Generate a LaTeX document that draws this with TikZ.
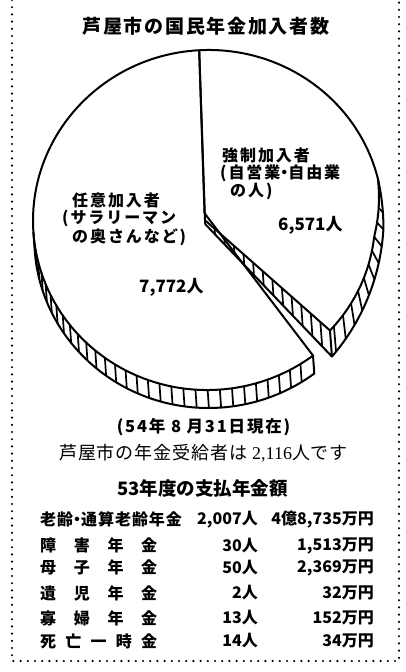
\documentclass[tikz,border=0pt]{standalone}
\usepackage{fontspec}
\usepackage{tikz}
\usetikzlibrary{calc}
\newfontfamily\jpfont{Noto Sans CJK JP}
\newfontfamily\numfont{Liberation Serif}
\newcommand\nakaguro{\makebox[0.5em]{・}}

\begin{document}
\begin{tikzpicture}[x=1pt, y=1pt,
    every node/.style={inner sep=0pt},
    titletext/.style={font=\jpfont\bfseries\fontsize{19}{22}\selectfont\addfontfeature{LetterSpace=9}},
    pietext/.style={anchor=west, font=\jpfont\bfseries\fontsize{16}{18}\selectfont\addfontfeature{LetterSpace=12}},
    pienum/.style={anchor=west, font=\jpfont\bfseries\fontsize{17}{19}\selectfont},
    datetext/.style={font=\jpfont\bfseries\fontsize{16.5}{19}\selectfont\addfontfeature{LetterSpace=11}},
    jukyutext/.style={font=\jpfont\fontsize{18}{20}\selectfont\addfontfeature{LetterSpace=5}},
    headtext/.style={font=\jpfont\bfseries\fontsize{18.5}{21}\selectfont},
    rowtext/.style={font=\jpfont\bfseries\fontsize{16}{18}\selectfont},
    outline/.style={line width=2pt, line join=round},
    hatch/.style={line width=1.7pt},
    dotborder/.style={line width=2.4pt, line cap=round, dash pattern=on 0pt off 7.2pt},
    declare function={innerscale(\t)=1-0.045*max(0,min(1,(10-\t)/20));
                      outerscale(\t)=1-0.044*max(0,min(1,(-5-\t)/42));
                      rimdrop(\t)=26*max(0,min(1,(10-\t)/57));}]
    \useasboundingbox (0,0) rectangle (405,-672);
    \draw[dotborder] (12,0) -- (12,-661) -- (399,-661) -- (399,0);

    \node[titletext] (title) at (206,-26.5) {芦屋市の国民年金加入者数};

    \begin{scope}[shift={(208,-220)}, rotate=4]
        \coordinate (A1) at (-3,7);
        \coordinate (A2) at (-3,0);
        \coordinate (A2b) at (-3,-4);
        \coordinate (Top) at (89:175 and 170);
        \coordinate (Lcut) at (303:175 and 170);
        \coordinate (Ci) at (-47:167.125 and 162.35);
        \coordinate (Co) at (114.1,-144.9);

        \draw[outline] (Top) -- (A2) -- (Ci) -- plot[domain=-47:10, samples=40] ({175*innerscale(\x)*cos(\x)}, {170*innerscale(\x)*sin(\x)}) arc[start angle=10, end angle=89, x radius=175, y radius=170];
        \draw[outline] (A2) -- (A2b) -- (Co) -- (Ci);
        \foreach \i in {1,...,12}
            \draw[hatch] ($(A2)!\i/13!(Ci)$) -- ($(A2b)!\i/13!(Co)$);
        \draw[outline] plot[domain=10:-47, samples=40] ({175*outerscale(\x)*cos(\x)}, {170*outerscale(\x)*sin(\x)-rimdrop(\x)});
        \foreach \t in {0,-5,...,-45}
            \draw[hatch] ({175*innerscale(\t)*cos(\t)}, {170*innerscale(\t)*sin(\t)}) -- ({175*outerscale(\t)*cos(\t)}, {170*outerscale(\t)*sin(\t)-rimdrop(\t)});

        \draw[outline] (A1) -- (Top) arc[start angle=89, end angle=303, x radius=175, y radius=170] -- cycle;
        \draw[outline] (180:175 and 170) -- ++(0,-18) arc[start angle=180, end angle=303, x radius=175, y radius=170] -- (Lcut);
        \foreach \t in {186,190,...,298}
            \draw[hatch] (\t:175 and 170) -- ++(0,-18);
    \end{scope}

    \node[pietext] (kyosei1) at (222,-155) {強制加入者};
    \node[pietext] (kyosei2) at (220,-173) {(自営業\nakaguro 自由業};
    \node[pietext] (kyosei3) at (230,-191) {の人)};
    \node[pietext] (nini1) at (72,-200) {任意加入者};
    \node[pietext] (nini2) at (62,-218) {(サラリーマン};
    \node[pietext] (nini3) at (72,-237) {の奥さんなど)};
    \node[pienum] (kyoseinum) at (278,-225) {6,571人};
    \node[pienum] (nininum) at (139,-287) {7,772人};

    \node[datetext] (date) at (203.5,-427) {(54年 8 月31日現在)};
    \node[jukyutext] (jukyu) at (203.5,-453) {芦屋市の年金受給者は {\numfont 2,116}人です};
    \node[headtext] (shiharai) at (202.5,-488) {53年度の支払年金額};

    \node[rowtext, anchor=west] (name1) at (40,-519.5) {\addfontfeature{LetterSpace=6}老齢\nakaguro 通算老齢年金};
    \node[rowtext, anchor=east] (count1) at (258,-519.5) {2,007人};
    \node[rowtext, anchor=east] (amount1) at (374,-519.5) {4億8,735万円};
    \node[rowtext, anchor=west] (name2) at (40,-545.5) {\makebox[117pt][s]{障 害 年 金}};
    \node[rowtext, anchor=east] (count2) at (258,-545.5) {30人};
    \node[rowtext, anchor=east] (amount2) at (374,-545.5) {1,513万円};
    \node[rowtext, anchor=west] (name3) at (40,-567.5) {\makebox[117pt][s]{母 子 年 金}};
    \node[rowtext, anchor=east] (count3) at (258,-567.5) {50人};
    \node[rowtext, anchor=east] (amount3) at (374,-567.5) {2,369万円};
    \node[rowtext, anchor=west] (name4) at (40,-593) {\makebox[117pt][s]{遺 児 年 金}};
    \node[rowtext, anchor=east] (count4) at (258,-593) {2人};
    \node[rowtext, anchor=east] (amount4) at (374,-593) {32万円};
    \node[rowtext, anchor=west] (name5) at (40,-618) {\makebox[117pt][s]{寡 婦 年 金}};
    \node[rowtext, anchor=east] (count5) at (258,-618) {13人};
    \node[rowtext, anchor=east] (amount5) at (374,-618) {152万円};
    \node[rowtext, anchor=west] (name6) at (40,-641) {\makebox[117pt][s]{死 亡 一 時 金}};
    \node[rowtext, anchor=east] (count6) at (258,-641) {14人};
    \node[rowtext, anchor=east] (amount6) at (374,-641) {34万円};
\end{tikzpicture}
\end{document}
